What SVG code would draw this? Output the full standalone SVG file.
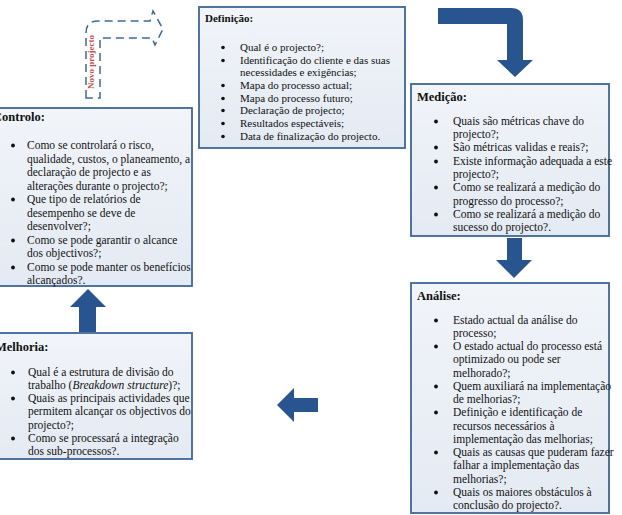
<svg xmlns="http://www.w3.org/2000/svg" width="622" height="515" viewBox="0 0 622 515">
<defs>
<linearGradient id="boxfill" x1="0" y1="0" x2="0" y2="1">
<stop offset="0" stop-color="#f1f4f9"/>
<stop offset="1" stop-color="#e4eaf3"/>
</linearGradient>
<style>
.box{fill:url(#boxfill);stroke:#3f6696;stroke-width:1.8}
.t{font-family:"Liberation Serif","Times New Roman",serif;font-size:11.5px;fill:#111}
.d{font-size:11px}
.h{font-family:"Liberation Serif","Times New Roman",serif;font-weight:bold;font-size:12.5px;fill:#111}
.hd{font-size:11px}
.b{fill:#111}
.arrow{fill:#28548f}
.dash{fill:none;stroke:#41689a;stroke-width:1.5;stroke-dasharray:8 5}
.np{font-family:"Liberation Serif","Times New Roman",serif;font-weight:bold;font-size:9px;fill:#c0504d}
</style>
</defs>
<rect width="622" height="515" fill="#ffffff"/>

<g id="connectors">
<path class="dash" d="M86,98 L86,33 Q86,21 98,21 L150,21 L153,11 L163,29 L155,45 L152,38 L100,38 L100,98 Z"/>
<text class="np" transform="translate(94,62) rotate(-90)" text-anchor="middle">Novo projecto</text>
<path class="arrow" d="M438,8 L511,8 Q523,8 523,20 L523,60 L533,60 L515,77 L497,60 L507,60 L507,24 L438,24 Z"/>
<path class="arrow" d="M507,238 L522,238 L522,260 L532,260 L514,278 L496,260 L507,260 Z"/>
<path class="arrow" d="M318,398 L318,412 L294,412 L294,422 L277,405 L294,388 L294,398 Z"/>
<path class="arrow" d="M79,332 L79,307 L70,307 L88,289 L106,307 L96,307 L96,332 Z"/>
</g>

<g id="definicao">
<rect class="box" x="199" y="7" width="206" height="141"/>
<text class="h hd" x="205" y="22">Definição:</text>
<g class="b">
<circle cx="223" cy="47.5" r="1.8"/><circle cx="223" cy="60.5" r="1.8"/><circle cx="223" cy="85.5" r="1.8"/><circle cx="223" cy="98.5" r="1.8"/><circle cx="223" cy="110.5" r="1.8"/><circle cx="223" cy="123.5" r="1.8"/><circle cx="223" cy="136.5" r="1.8"/>
</g>
<g class="t d">
<text x="240" y="51">Qual é o projecto?;</text>
<text x="240" y="64">Identificação do cliente e das suas</text>
<text x="240" y="76">necessidades e exigências;</text>
<text x="240" y="89">Mapa do processo actual;</text>
<text x="240" y="102">Mapa do processo futuro;</text>
<text x="240" y="114">Declaração de projecto;</text>
<text x="240" y="127">Resultados espectáveis;</text>
<text x="240" y="140">Data de finalização do projecto.</text>
</g>
</g>

<g id="medicao">
<rect class="box" x="411" y="84" width="198" height="152"/>
<text class="h" x="417" y="101">Medição:</text>
<g class="b">
<circle cx="436" cy="121.5" r="1.9"/><circle cx="436" cy="147.5" r="1.9"/><circle cx="436" cy="161.5" r="1.9"/><circle cx="436" cy="187.5" r="1.9"/><circle cx="436" cy="214.5" r="1.9"/>
</g>
<g class="t">
<text x="453" y="125">Quais são métricas chave do</text>
<text x="453" y="138">projecto?;</text>
<text x="453" y="151">São métricas validas e reais?;</text>
<text x="453" y="165">Existe informação adequada a este</text>
<text x="453" y="178">projecto?;</text>
<text x="453" y="191">Como se realizará a medição do</text>
<text x="453" y="205">progresso do processo?;</text>
<text x="453" y="218">Como se realizará a medição do</text>
<text x="453" y="231">sucesso do projecto?.</text>
</g>
</g>

<g id="analise">
<rect class="box" x="411" y="283" width="198" height="230"/>
<text class="h" x="417" y="300">Análise:</text>
<g class="b">
<circle cx="436" cy="320.5" r="1.9"/><circle cx="436" cy="346.5" r="1.9"/><circle cx="436" cy="386.5" r="1.9"/><circle cx="436" cy="412.5" r="1.9"/><circle cx="436" cy="452.5" r="1.9"/><circle cx="436" cy="492.5" r="1.9"/>
</g>
<g class="t">
<text x="453" y="324">Estado actual da análise do</text>
<text x="453" y="337">processo;</text>
<text x="453" y="350">O estado actual do processo está</text>
<text x="453" y="363">optimizado ou pode ser</text>
<text x="453" y="377">melhorado?;</text>
<text x="453" y="390">Quem auxiliará na implementação</text>
<text x="453" y="403">de melhorias?;</text>
<text x="453" y="416">Definição e identificação de</text>
<text x="453" y="430">recursos necessários à</text>
<text x="453" y="443">implementação das melhorias;</text>
<text x="453" y="456">Quais as causas que puderam fazer</text>
<text x="453" y="469">falhar a implementação das</text>
<text x="453" y="483">melhorias?;</text>
<text x="453" y="496">Quais os maiores obstáculos à</text>
<text x="453" y="509">conclusão do projecto?.</text>
</g>
</g>

<g id="controlo">
<rect class="box" x="-3" y="108" width="195" height="178"/>
<text class="h" x="-7" y="121">Controlo:</text>
<g class="b">
<circle cx="13" cy="145.5" r="1.9"/><circle cx="13" cy="199.5" r="1.9"/><circle cx="13" cy="240.5" r="1.9"/><circle cx="13" cy="267.5" r="1.9"/>
</g>
<g class="t">
<text x="27" y="149">Como se controlará o risco,</text>
<text x="27" y="163">qualidade, custos, o planeamento, a</text>
<text x="27" y="176">declaração de projecto e as</text>
<text x="27" y="190">alterações durante o projecto?;</text>
<text x="27" y="203">Que tipo de relatórios de</text>
<text x="27" y="217">desempenho se deve de</text>
<text x="27" y="230">desenvolver?;</text>
<text x="27" y="244">Como se pode garantir o alcance</text>
<text x="27" y="257">dos objectivos?;</text>
<text x="27" y="271">Como se pode manter os benefícios</text>
<text x="27" y="284">alcançados?.</text>
</g>
</g>

<g id="melhoria">
<rect class="box" x="-3" y="333" width="195" height="126"/>
<text class="h" x="-5" y="351">Melhoria:</text>
<g class="b">
<circle cx="13" cy="372.5" r="1.9"/><circle cx="13" cy="398.5" r="1.9"/><circle cx="13" cy="438.5" r="1.9"/>
</g>
<g class="t">
<text x="28" y="376">Qual é a estrutura de divisão do</text>
<text x="28" y="389">trabalho (<tspan font-style="italic">Breakdown structure</tspan>)?;</text>
<text x="28" y="402">Quais as principais actividades que</text>
<text x="28" y="415">permitem alcançar os objectivos do</text>
<text x="28" y="429">projecto?;</text>
<text x="28" y="442">Como se processará a integração</text>
<text x="28" y="455">dos sub-processos?.</text>
</g>
</g>
</svg>
